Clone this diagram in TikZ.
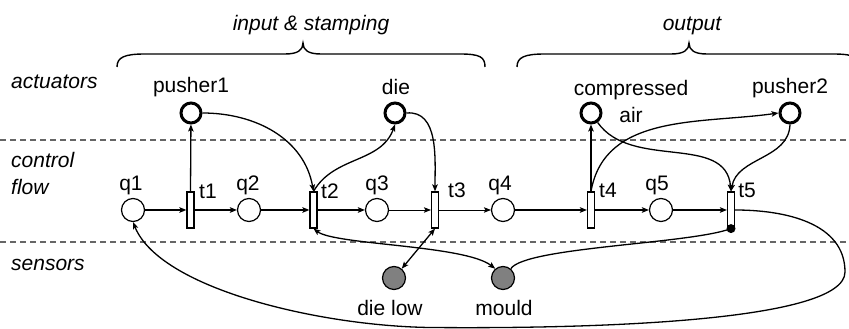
\documentclass[tikz,border=0pt]{standalone}
\usepackage{fontspec}
\setmainfont{Liberation Sans}
\usetikzlibrary{arrows.meta}
\begin{document}
\begin{tikzpicture}[x=1pt,y=1pt,
  lbl/.style={font=\fontsize{21}{27}\selectfont, inner sep=0pt},
  hdr/.style={font=\fontsize{21}{27}\selectfont\itshape, inner sep=0pt},
  place/.style={circle,draw,line width=1.2pt,minimum size=23pt,inner sep=0pt,fill=white},
  act/.style={circle,draw,line width=3pt,minimum size=20pt,inner sep=0pt,fill=white},
  sens/.style={circle,draw,line width=1.2pt,minimum size=23pt,inner sep=0pt,fill=black!50},
  trans/.style={rectangle,draw,line width=1.2pt,minimum width=7pt,minimum height=36pt,inner sep=0pt,fill=white},
  arc/.style={line width=1.3pt,-{Stealth[length=7pt,width=5.5pt,inset=1.5pt]}},
  thinarc/.style={line width=0.8pt,-{Stealth[length=7pt,width=5.5pt,inset=1.5pt]}},
  biarc/.style={line width=1.3pt,{Stealth[length=7pt,width=5.5pt,inset=1.5pt]}-{Stealth[length=7pt,width=5.5pt,inset=1.5pt]}},
  sep/.style={dash pattern=on 6pt off 4pt, line width=1.2pt, black!60},
  brace/.style={line width=1.4pt},
]
\useasboundingbox (0,0) rectangle (849,329);

% separators
\draw[sep] (0,189) -- (849,189);
\draw[sep] (0,87) -- (849,87);

% left labels
\node[hdr,anchor=west] (lact) at (11,247) {actuators};
\node[hdr,anchor=west] (lctl) at (11,169) {control};
\node[hdr,anchor=west] (lflow) at (11,142) {flow};
\node[hdr,anchor=west] (lsen) at (11,64) {sensors};

% headers and braces
\node[hdr] (hin) at (311,303.5) {input \& stamping};
\node[hdr] (hout) at (692,303.5) {output};
\draw[brace] (117,262) .. controls (117,272) and (125,275) .. (145,275) -- (285,275)
  .. controls (298,275) and (303,279) .. (303,286)
  .. controls (303,279) and (308,275) .. (321,275) -- (460,275)
  .. controls (480,275) and (485,272) .. (485,262);
\draw[brace] (517,262) .. controls (517,272) and (525,275) .. (545,275) -- (671,275)
  .. controls (684,275) and (689,279) .. (689,286)
  .. controls (689,279) and (694,275) .. (707,275) -- (833,275)
  .. controls (853,275) and (861,272) .. (861,262);

% actuators
\node[act] (pusher1) at (191,216) {};
\node[act] (die) at (395,216) {};
\node[act] (air) at (591,216) {};
\node[act] (pusher2) at (790,216) {};
\node[lbl] (lp1) at (191,242) {pusher1};
\node[lbl] (ldie) at (396,242) {die};
\node[lbl,align=center] (lair) at (631,227.5) {compressed\\air};
\node[lbl] (lp2) at (790,241) {pusher2};

% control flow
\node[place] (q1) at (133,119) {};
\node[trans] (t1) at (190.5,119) {};
\node[place] (q2) at (249,119) {};
\node[trans] (t2) at (313.5,119) {};
\node[place] (q3) at (377,119) {};
\node[trans] (t3) at (435,119) {};
\node[place] (q4) at (503,119) {};
\node[trans] (t4) at (591,119) {};
\node[place] (q5) at (661,119) {};
\node[trans] (t5) at (731,119) {};
\node[lbl] (lq1) at (131,144) {q1};
\node[lbl] (lq2) at (248,144) {q2};
\node[lbl] (lq3) at (377,144) {q3};
\node[lbl] (lq4) at (500,144) {q4};
\node[lbl] (lq5) at (657,144) {q5};
\node[lbl] (lt1) at (208,138) {t1};
\node[lbl] (lt2) at (330,138) {t2};
\node[lbl] (lt3) at (457,139) {t3};
\node[lbl] (lt4) at (608,139) {t4};
\node[lbl] (lt5) at (747,139) {t5};

% sensors
\node[sens] (dielow) at (394,51) {};
\node[sens] (mould) at (503,51) {};
\node[lbl] (ldl) at (390,21) {die low};
\node[lbl] (lmo) at (504,21) {mould};

% flow arcs
\draw[arc] (q1) -- (t1);
\draw[arc] (t1) -- (q2);
\draw[arc] (q2) -- (t2);
\draw[arc] (t2) -- (q3);
\draw[thinarc] (q3) -- (t3);
\draw[thinarc] (t3) -- (q4);
\draw[arc] (q4) -- (t4);
\draw[arc] (t4) -- (q5);
\draw[arc] (q5) -- (t5);

% actuator arcs
\draw[arc] (t1.north) -- (pusher1);
\draw[arc] (pusher1.east) to[out=0,in=100] (t2.north);
\draw[arc] (t2.north) to[out=60,in=-110] (die.south);
\draw[arc] (die.east) to[out=5,in=90] (t3.north);
\draw[arc] (t4.north) -- (air);
\draw[arc] (t4.north) to[out=80,in=188] (pusher2.west);
\draw[arc] (air.-55) to[out=-55,in=95] (t5.north);
\draw[arc] (pusher2.south) to[out=-92,in=80] (t5.north);

% sensor arcs
\draw[biarc] (t3.south) -- (dielow);
\draw[biarc] (t2.south) .. controls (335,84) and (465,84) .. (mould.130);
\draw[line width=1.3pt] (mould.50) .. controls (525,82) and (690,85) .. (t5.south);
\fill (t5.south) circle (4.5);

% return arc
\draw[arc] (t5.east) to[out=0,in=90] (845,57)
  .. controls (845,8) and (600,0) .. (430,1.5)
  .. controls (320,3) and (160,40) .. (q1.south);
\end{tikzpicture}
\end{document}
